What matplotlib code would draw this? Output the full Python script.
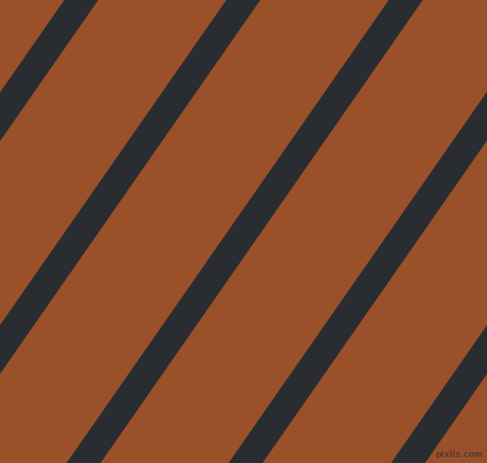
import matplotlib
matplotlib.use("Agg")
import matplotlib.pyplot as plt
import numpy as np

# Stripe centre-lines: x where each crosses the top edge (pixels)
stripe_offsets = [-80.5, 82, 244, 406.5, 568.5, 731]
stripe_halfwidth = 17.0      # horizontal half-width
stripe_run = 0.696           # x shift per pixel of descent
width, height = 487, 464
bg_color = "#9A5129"
stripe_color = "#292D31"

fig = plt.figure(figsize=(width / 100, height / 100), dpi=100)
ax = fig.add_axes([0, 0, 1, 1])
ax.set_xlim(0, width)
ax.set_ylim(height, 0)
ax.axis("off")
fig.patch.set_facecolor(bg_color)
ax.set_facecolor(bg_color)

ys = np.array([-20, height + 20])
for c in stripe_offsets:
    xc = c - stripe_run * ys
    xs = np.concatenate([xc - stripe_halfwidth, (xc + stripe_halfwidth)[::-1]])
    yy = np.concatenate([ys, ys[::-1]])
    ax.fill(xs, yy, color=stripe_color, linewidth=0, antialiased=True)

ax.text(483, 455, "pixlis.com", fontsize=6, color="#4a3a30", ha="right", va="center",
        family="DejaVu Sans", fontweight="bold", alpha=0.85)

fig.savefig("out.png", dpi=100, facecolor=bg_color)
